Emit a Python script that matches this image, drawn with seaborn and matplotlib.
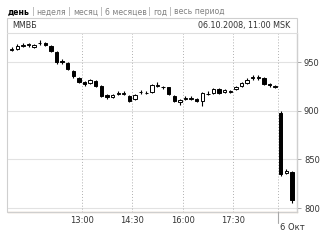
import numpy as np
import pandas as pd
import matplotlib
matplotlib.use("Agg")
import matplotlib.pyplot as plt
from matplotlib.patches import Rectangle
from matplotlib.lines import Line2D
import seaborn as sns

# ---- data: 10-minute candles, MICEX index, 3 Oct (tail) and 6 Oct 2008 ----
day1_start = ["10:50", "11:00", "11:10", "11:20", "11:30", "11:40", "11:50", "12:00",
              "12:10", "12:20", "12:30", "12:40", "12:50", "13:00", "13:10", "13:20",
              "13:30", "13:40", "13:50", "14:00", "14:10", "14:20", "14:30", "14:40",
              "14:50", "15:00", "15:10", "15:20", "15:30", "15:40", "15:50", "16:00",
              "16:10", "16:20", "16:30", "16:40", "16:50", "17:00", "17:10", "17:20",
              "17:30", "17:40", "17:50", "18:00", "18:10", "18:20", "18:30", "18:40"]
day2_start = ["10:30", "10:40", "10:50"]

opens  = [963, 964, 967, 968, 966, 969.5, 970, 967, 960, 951, 949, 941, 934, 930, 929, 931,
          926, 916, 914, 917.5, 917.5, 915, 912, 919, 918, 919, 926, 924, 924, 915, 909, 912.5,
          912.5, 912, 910, 917, 918, 922, 919, 919.5, 922, 926, 929, 934, 934, 934, 928, 925,
          898, 836, 837]
closes = [964, 967, 967.5, 968.5, 968, 970, 968, 961, 950, 950, 943, 936, 930, 928, 932, 926,
          915, 914, 916, 918, 918, 910, 916, 919.5, 918.5, 927, 926.5, 924.5, 917, 910, 911, 913,
          913, 910, 918, 917.5, 922, 918, 921, 920, 925, 929, 932, 934.5, 934.5, 928, 927, 925.5,
          835, 838, 808]
highs  = [966, 969, 970, 970, 969, 973, 971, 968, 961, 953, 950, 942, 935, 931, 933, 932,
          927, 917, 917, 920, 920, 916, 917, 921, 920, 928, 930, 926, 925, 916, 912, 915,
          915, 913, 919, 920, 923, 923, 922, 921, 926, 930, 934, 937, 937, 935, 929, 927,
          900, 840, 838]
lows   = [961, 963, 966, 966, 965, 968, 967, 960, 948, 948, 942, 934, 929, 926, 928, 925,
          914, 912, 913, 916, 916, 909, 911, 917, 917, 918, 925, 922, 916, 909, 906, 911,
          911, 909, 905, 916, 917, 917, 918, 918, 921, 925, 928, 932, 932, 927, 925, 923,
          833, 835, 805]

hour_ticks = ["13:00", "14:30", "16:00", "17:30"]
day_label = "6 Окт"
y_ticks = [800, 850, 900, 950]
menu = ["день", "неделя", "месяц", "6 месяцев", "год", "весь период"]
ticker = "ММВБ"
stamp = "06.10.2008, 11:00 MSK"

# ---- build table ----
def mins(t):
    h, m = t.split(":")
    return int(h) * 60 + int(m)

df = pd.DataFrame({
    "start": day1_start + day2_start,
    "open": opens, "close": closes, "high": highs, "low": lows,
})
df["pos"] = np.arange(len(df))
df["up"] = df["close"] >= df["open"]
first_center = mins(day1_start[0]) + 5
tick_pos = [(mins(t) - first_center) / 10 for t in hour_ticks]
boundary = len(day1_start) - 0.5

sns.set_theme(style="white")
plt.rcParams["font.family"] = ["DejaVu Sans"]

W, H = 320, 240
fig = plt.figure(figsize=(W / 100, H / 100), dpi=100)
fig.patch.set_facecolor("white")

def fx(px):
    return px / W

def fy(py):
    return 1 - py / H

L, R, T, B = 8, 297, 33, 212
XMIN, XMAX = -0.66, 50.9
ax = fig.add_axes([fx(L), fy(B), fx(R - L), fy(T) - fy(B)])
ax.set_facecolor("white")

# grid
for v in y_ticks:
    ax.axhline(v, color="#e2e2e2", lw=0.8, zorder=0)
for p in tick_pos + [boundary]:
    ax.axvline(p, color="#b0b0b0", lw=0.7, ls=(0, (1, 2)), zorder=0)

sns.despine(ax=ax, left=True, top=True, right=False, bottom=False)
# wicks
ax.vlines(df["pos"], df["low"], df["high"], color="black", lw=0.8, zorder=2)
# bodies
bw = 0.6
body_h = (df["close"] - df["open"]).abs().clip(lower=0.6)
body_b = df[["open", "close"]].min(axis=1)
ax.bar(df["pos"][df["up"]], body_h[df["up"]], bottom=body_b[df["up"]], width=bw,
       color="white", edgecolor="black", linewidth=0.7, zorder=3)
ax.bar(df["pos"][~df["up"]], body_h[~df["up"]], bottom=body_b[~df["up"]], width=bw,
       color="black", edgecolor="black", linewidth=0.7, zorder=3)

ax.set_xlim(XMIN, XMAX)
ax.set_ylim(796, 980)
ax.yaxis.tick_right()
ax.set_yticks(y_ticks)
ax.set_yticklabels([str(v) for v in y_ticks], fontsize=6, color="#333333")
ax.tick_params(axis="y", length=3, width=0.6, color="#999999", pad=2, right=True)
ax.set_xticks(tick_pos)
ax.set_xticklabels(hour_ticks, fontsize=6, color="#333333")
ax.tick_params(axis="x", length=0, pad=3)
ax.spines["right"].set_color("#c0c0c0")
ax.spines["right"].set_linewidth(0.9)
ax.spines["bottom"].set_color("#dcc8ae")
ax.spines["bottom"].set_linewidth(1.0)
ax.set_xlabel("")
ax.set_ylabel("")

# day boundary below axis
bx = fx(L) + (boundary - XMIN) / (XMAX - XMIN) * fx(R - L)
fig.add_artist(Line2D([bx, bx], [fy(B), fy(223)], color="#a8a8a8", lw=0.8))
fig.text(bx + fx(2), fy(227), day_label, fontsize=6, color="#333333",
         ha="left", va="center")

# header box
fig.add_artist(Rectangle((fx(7), fy(B)), fx(R - 7), fy(18) - fy(B), fill=False,
                         edgecolor="#cfcfcf", lw=0.8))
fig.add_artist(Line2D([fx(7), fx(R)], [fy(32.5), fy(32.5)], color="#dedede", lw=0.8))
fig.text(fx(12), fy(25.5), ticker, fontsize=5.8, color="#333333", va="center", ha="left")
fig.text(fx(290), fy(25.5), stamp, fontsize=5.8, color="#333333", va="center", ha="right")

# menu line
x = fx(8)
r = fig.canvas.get_renderer()
for k, item in enumerate(menu):
    t = fig.text(x, fy(12), item, fontsize=5.6, va="center", ha="left",
                 color="black" if k == 0 else "#808080",
                 fontweight="bold" if k == 0 else "normal")
    w = t.get_window_extent(renderer=r).width / W
    x += w
    if k < len(menu) - 1:
        s = fig.text(x + fx(2), fy(12), "|", fontsize=5.6, va="center", ha="left",
                     color="#9a9a9a")
        x += s.get_window_extent(renderer=r).width / W + fx(4)

fig.savefig("out.png", dpi=100)
